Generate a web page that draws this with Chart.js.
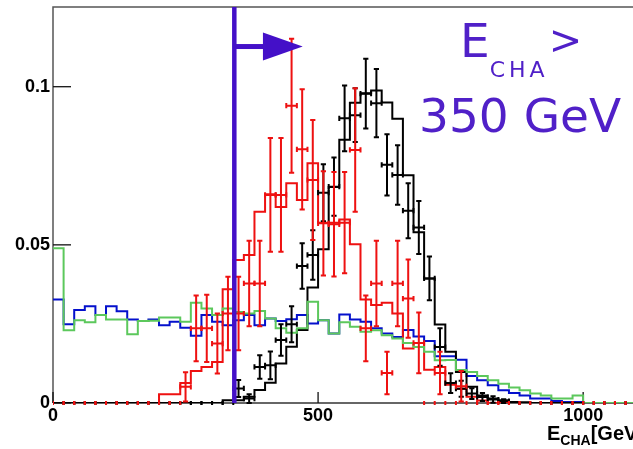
<!DOCTYPE html>
<html>
<head>
<meta charset="utf-8">
<script src="https://cdn.jsdelivr.net/npm/chart.js@4"></script>
<style>
html,body{margin:0;padding:0;background:#fff;overflow:hidden;}
#wrap{position:relative;width:633px;height:449px;overflow:hidden;}
#c{position:absolute;left:0;top:0;}
.lbl{position:absolute;white-space:nowrap;}
</style>
</head>
<body>
<div id="wrap">
<canvas id="c" width="633" height="449"></canvas>
<div class="lbl" style="left:547px;top:423px;font:bold 20px 'Liberation Sans',Arial,sans-serif;line-height:20px;color:#000">E<span style="font-size:14px;position:relative;top:5px">CHA</span>[GeV]</div>
<div class="lbl" style="left:460px;top:17px;font:47px 'DejaVu Sans',sans-serif;line-height:47px;color:#5020c8">E<span style="font-size:22px;position:relative;top:20px;letter-spacing:4px">CHA</span><span style="font-size:40px;position:relative;top:-3px">&gt;</span></div>
<div class="lbl" style="left:419px;top:92px;font:47px 'DejaVu Sans',sans-serif;line-height:47px;color:#5020c8">350 GeV</div>
</div>
<script>
// ---- data (bins of 20 GeV starting at 0) ----
const binWidth = 20;
const xTickValues = [0, 500, 1000];
const xTickLabels = ['0', '500', '1000'];
const yTickValues = [0, 0.05, 0.1];
const yTickLabels = ['0', '0.05', '0.1'];

const blueHist = [
0.0327,0.0249,0.0294,0.0306,0.0278,0.0306,0.0290,0.0264,0.0259,0.0264,
0.0246,0.0257,0.0238,0.0213,0.0278,0.0257,0.0246,0.0262,0.0278,0.0246,
0.0267,0.0259,0.0265,0.0278,0.0251,0.0262,0.0220,0.0280,0.0264,0.0257,
0.0236,0.0220,0.0209,0.0231,0.0210,0.0196,0.0148,0.0148,0.0137,0.0085,
0.0072,0.0056,0.0040,0.0032,0.0024,0.0014,0.0014,0.0006,0.0003,0.0003,
0,0,0,0,0];

const greenHist = [
0.0489,0.0230,0.0262,0.0255,0.0278,0.0264,0.0264,0.0217,0.0259,0.0260,
0.0270,0.0270,0.0257,0.0317,0.0299,0.0278,0.0299,0.0288,0.0283,0.0291,
0.0267,0.0236,0.0222,0.0236,0.0320,0.0262,0.0220,0.0255,0.0241,0.0225,
0.0230,0.0214,0.0204,0.0190,0.0177,0.0162,0.0135,0.0136,0.0104,0.0098,
0.0085,0.0072,0.0061,0.0049,0.0040,0.0030,0.0024,0.0014,0.0014,0.0024,
0,0,0,0,0];

const redHist = [
0,0,0,0,0,0,0,0,0,0,
0.0028,0.0028,0.0063,0.0101,0.0114,0.0130,0.0360,0.0452,0.0468,0.0605,
0.0660,0.0620,0.0695,0.0642,0.0758,0.0570,0.0570,0.0580,0.0502,0.0327,
0.0310,0.0317,0.0283,0.0172,0.0190,0.0105,0.0114,0.0058,0.0045,0.0020,
0.0008,0,0,0,0,0,0,0,0,0,
0,0,0,0,0];

const redPoints = [
0,0,0,0,0,0,0,0,0,0,
0,0,0.0051,0.0236,0.0236,0.0188,0.0283,0.0283,0.0378,0.0378,
0.0658,0.0658,0.0940,0.0802,0.0705,0.0568,0.0565,0.0570,0.0800,0.0236,
0.0378,0.0095,0.0378,0.0330,0.0190,0,0.0095,0,0.0053,0,
0,0,0,0,0,0,0,0,0,0,
0,0,0,0,0];

const redErrors = [
0,0,0,0,0,0,0,0,0,0,
0,0,0.0046,0.0104,0.0106,0.0095,0.0116,0.0116,0.0135,0.0135,
0.0180,0.0180,0.0212,0.0190,0.0190,0.0165,0.0165,0.0160,0.0195,0.0104,
0.0135,0.0067,0.0135,0.0124,0.0096,0,0.0067,0,0.0048,0,
0,0,0,0,0,0,0,0,0,0,
0,0,0,0,0];

const blackHist = [
0,0,0,0,0,0,0,0,0,0,
0,0,0,0,0,0,0.0009,0.0009,0.0020,0.0041,
0.0064,0.0125,0.0178,0.0231,0.0365,0.0486,0.0683,0.0832,0.0949,0.0979,
0.0988,0.0950,0.0899,0.0720,0.0540,0.0394,0.0248,0.0162,0.0098,0.0051,
0.0024,0.0014,0.0009,0.0003,0.0002,0,0,0,0,0,
0,0,0,0,0];

const blackPoints = [
0,0,0,0,0,0,0,0,0,0,
0,0,0,0,0,0,0,0.0046,0.0014,0.0114,
0.0119,0.0199,0.0249,0.0433,0.0468,0.0665,0.0684,0.0900,0.0910,0.0978,
0.0948,0.0753,0.0721,0.0608,0.0555,0.0394,0.0177,0.0063,0.0045,0.0030,
0.0019,0.0011,0.0006,0,0,0,0,0,0,0,
0,0,0,0,0];

const blackErrors = [
0,0,0,0,0,0,0,0,0,0,
0,0,0,0,0,0,0,0.0027,0.0014,0.0037,
0.0044,0.0050,0.0057,0.0072,0.0078,0.0090,0.0092,0.0104,0.0085,0.0110,
0.0108,0.0097,0.0094,0.0087,0.0084,0.0069,0.0059,0.0031,0.0025,0.0017,
0.0013,0.0010,0.0006,0,0,0,0,0,0,0,
0,0,0,0,0];

// annotation: selection cut and arrow (data units)
const cutValue = 342;
const arrowLevel = 0.1127;
const arrowHeadStart = 396;
const arrowTip = 471;
const arrowHeadHalf = 0.0044;

// ---- helpers to build library data ----
function histPoints(vals) {
  const pts = vals.map((v, i) => ({x: i * binWidth, y: v}));
  pts.push({x: vals.length * binWidth, y: vals[vals.length - 1]});
  return pts;
}
function centerPoints(vals) {
  return vals.map((v, i) => ({x: (i + 0.5) * binWidth, y: v}));
}

const COLORS = {blue:'#0410cc', green:'#5cc85c', red:'#ee1111', black:'#000000', cut:'#4410c8'};

function stepDs(label, vals, color) {
  return {type:'line', label, data: histPoints(vals), borderColor: color, borderWidth: 2,
          stepped: 'before', pointRadius: 0, fill: false, tension: 0};
}
function errDs(label, vals, errs, color) {
  return {type:'scatter', label, data: centerPoints(vals), errorBars: errs, borderColor: color,
          backgroundColor: color, pointRadius: 0, showLine: false};
}

// first dataset is drawn on top
const datasets = [
  errDs('red points', redPoints, redErrors, COLORS.red),
  errDs('black points', blackPoints, blackErrors, COLORS.black),
  stepDs('green', greenHist, COLORS.green),
  stepDs('black', blackHist, COLORS.black),
  stepDs('red', redHist, COLORS.red),
  stepDs('blue', blueHist, COLORS.blue)
];

const framePlugin = {
  id: 'frame',
  beforeDatasetsDraw(chart) {
    const {ctx, chartArea: a, scales: {x, y}} = chart;
    ctx.save();
    ctx.lineWidth = 1.5;
    ctx.strokeStyle = '#555';
    ctx.beginPath();
    ctx.moveTo(a.left, a.bottom);
    ctx.lineTo(a.left, a.top);
    ctx.lineTo(a.right + 2, a.top);
    ctx.stroke();
    ctx.strokeStyle = '#333';
    ctx.beginPath();
    ctx.moveTo(a.left, a.bottom);
    ctx.lineTo(a.right + 2, a.bottom);
    ctx.stroke();
    ctx.strokeStyle = '#111';
    ctx.lineWidth = 1.3;
    y.ticks.forEach(t => {
      const py = y.getPixelForValue(t.value);
      ctx.beginPath(); ctx.moveTo(a.left, py); ctx.lineTo(a.left + 18, py); ctx.stroke();
    });
    x.ticks.forEach(t => {
      const px = x.getPixelForValue(t.value);
      ctx.beginPath(); ctx.moveTo(px, a.bottom); ctx.lineTo(px, a.bottom - 11); ctx.stroke();
    });
    ctx.restore();
  }
};

const errorBarPlugin = {
  id: 'errorBars',
  afterDatasetsDraw(chart) {
    const {ctx, chartArea: a, scales: {x, y}} = chart;
    ctx.save();
    ctx.beginPath();
    ctx.rect(a.left, a.top, a.right - a.left, a.bottom - a.top + 4);
    ctx.clip();
    const cap = 2.6;
    const list = chart.data.datasets.filter(d => d.errorBars).slice().reverse();
    list.forEach(ds => {
      ctx.strokeStyle = ds.borderColor;
      ctx.lineWidth = 2;
      ds.data.forEach((p, j) => {
        const e = ds.errorBars[j];
        const xl = x.getPixelForValue(p.x - binWidth / 2);
        const xr = x.getPixelForValue(p.x + binWidth / 2);
        const xc = x.getPixelForValue(p.x);
        const yc = y.getPixelForValue(p.y);
        ctx.beginPath();
        if (p.y > 0) {
          ctx.moveTo(xl, yc); ctx.lineTo(xr, yc);
          ctx.moveTo(xl, yc - cap); ctx.lineTo(xl, yc + cap);
          ctx.moveTo(xr, yc - cap); ctx.lineTo(xr, yc + cap);
        } else {
          ctx.moveTo(xl, yc - 2); ctx.lineTo(xl, yc + 2);
          ctx.moveTo(xr, yc - 2); ctx.lineTo(xr, yc + 2);
        }
        if (e > 0) {
          const yt = y.getPixelForValue(p.y + e);
          const yb = y.getPixelForValue(Math.max(p.y - e, 0));
          ctx.moveTo(xc, yt); ctx.lineTo(xc, yb);
          ctx.moveTo(xc - cap, yt); ctx.lineTo(xc + cap, yt);
          ctx.moveTo(xc - cap, yb); ctx.lineTo(xc + cap, yb);
        }
        ctx.stroke();
      });
    });
    ctx.restore();
  }
};

const cutPlugin = {
  id: 'cut',
  afterDatasetsDraw(chart) {
    const {ctx, chartArea: a, scales: {x, y}} = chart;
    ctx.save();
    ctx.strokeStyle = COLORS.cut;
    ctx.fillStyle = COLORS.cut;
    const cx = x.getPixelForValue(cutValue);
    ctx.lineWidth = 4.5;
    ctx.beginPath();
    ctx.moveTo(cx, y.getPixelForValue(0));
    ctx.lineTo(cx, a.top);
    ctx.stroke();
    const ay = y.getPixelForValue(arrowLevel);
    const hx = x.getPixelForValue(arrowHeadStart);
    ctx.lineWidth = 5;
    ctx.beginPath();
    ctx.moveTo(cx, ay);
    ctx.lineTo(hx + 1, ay);
    ctx.stroke();
    ctx.beginPath();
    ctx.moveTo(hx, y.getPixelForValue(arrowLevel + arrowHeadHalf));
    ctx.lineTo(x.getPixelForValue(arrowTip), ay);
    ctx.lineTo(hx, y.getPixelForValue(arrowLevel - arrowHeadHalf));
    ctx.closePath();
    ctx.fill();
    ctx.restore();
  }
};

Chart.defaults.font.family = "'Liberation Sans', Arial, Helvetica, sans-serif";

new Chart(document.getElementById('c'), {
  data: {datasets},
  options: {
    responsive: false,
    animation: false,
    devicePixelRatio: 1,
    layout: {padding: {top: 7, right: 0, left: 0, bottom: 0}},
    plugins: {legend: {display: false}, tooltip: {enabled: false}},
    scales: {
      x: {
        type: 'linear', min: 0, max: 1094,
        grid: {display: false, drawTicks: false},
        border: {display: false},
        afterBuildTicks: s => { s.ticks = xTickValues.map(v => ({value: v})); },
        afterFit: s => { s.height = 46; s.paddingLeft = 0; s.paddingRight = 0; },
        ticks: {autoSkip: false, maxRotation: 0, padding: 2, color: '#000',
                font: {size: 18, weight: 'bold'},
                callback: (v, i) => xTickLabels[i]}
      },
      y: {
        type: 'linear', min: 0, max: 0.1252,
        grid: {display: false, drawTicks: false},
        border: {display: false},
        afterBuildTicks: s => { s.ticks = yTickValues.map(v => ({value: v})); },
        afterFit: s => { s.width = 53; s.paddingTop = 0; s.paddingBottom = 0; },
        ticks: {autoSkip: false, padding: 3, color: '#000',
                font: {size: 18, weight: 'bold'},
                callback: (v, i) => yTickLabels[i]}
      }
    }
  },
  plugins: [framePlugin, errorBarPlugin, cutPlugin]
});
</script>
</body>
</html>
